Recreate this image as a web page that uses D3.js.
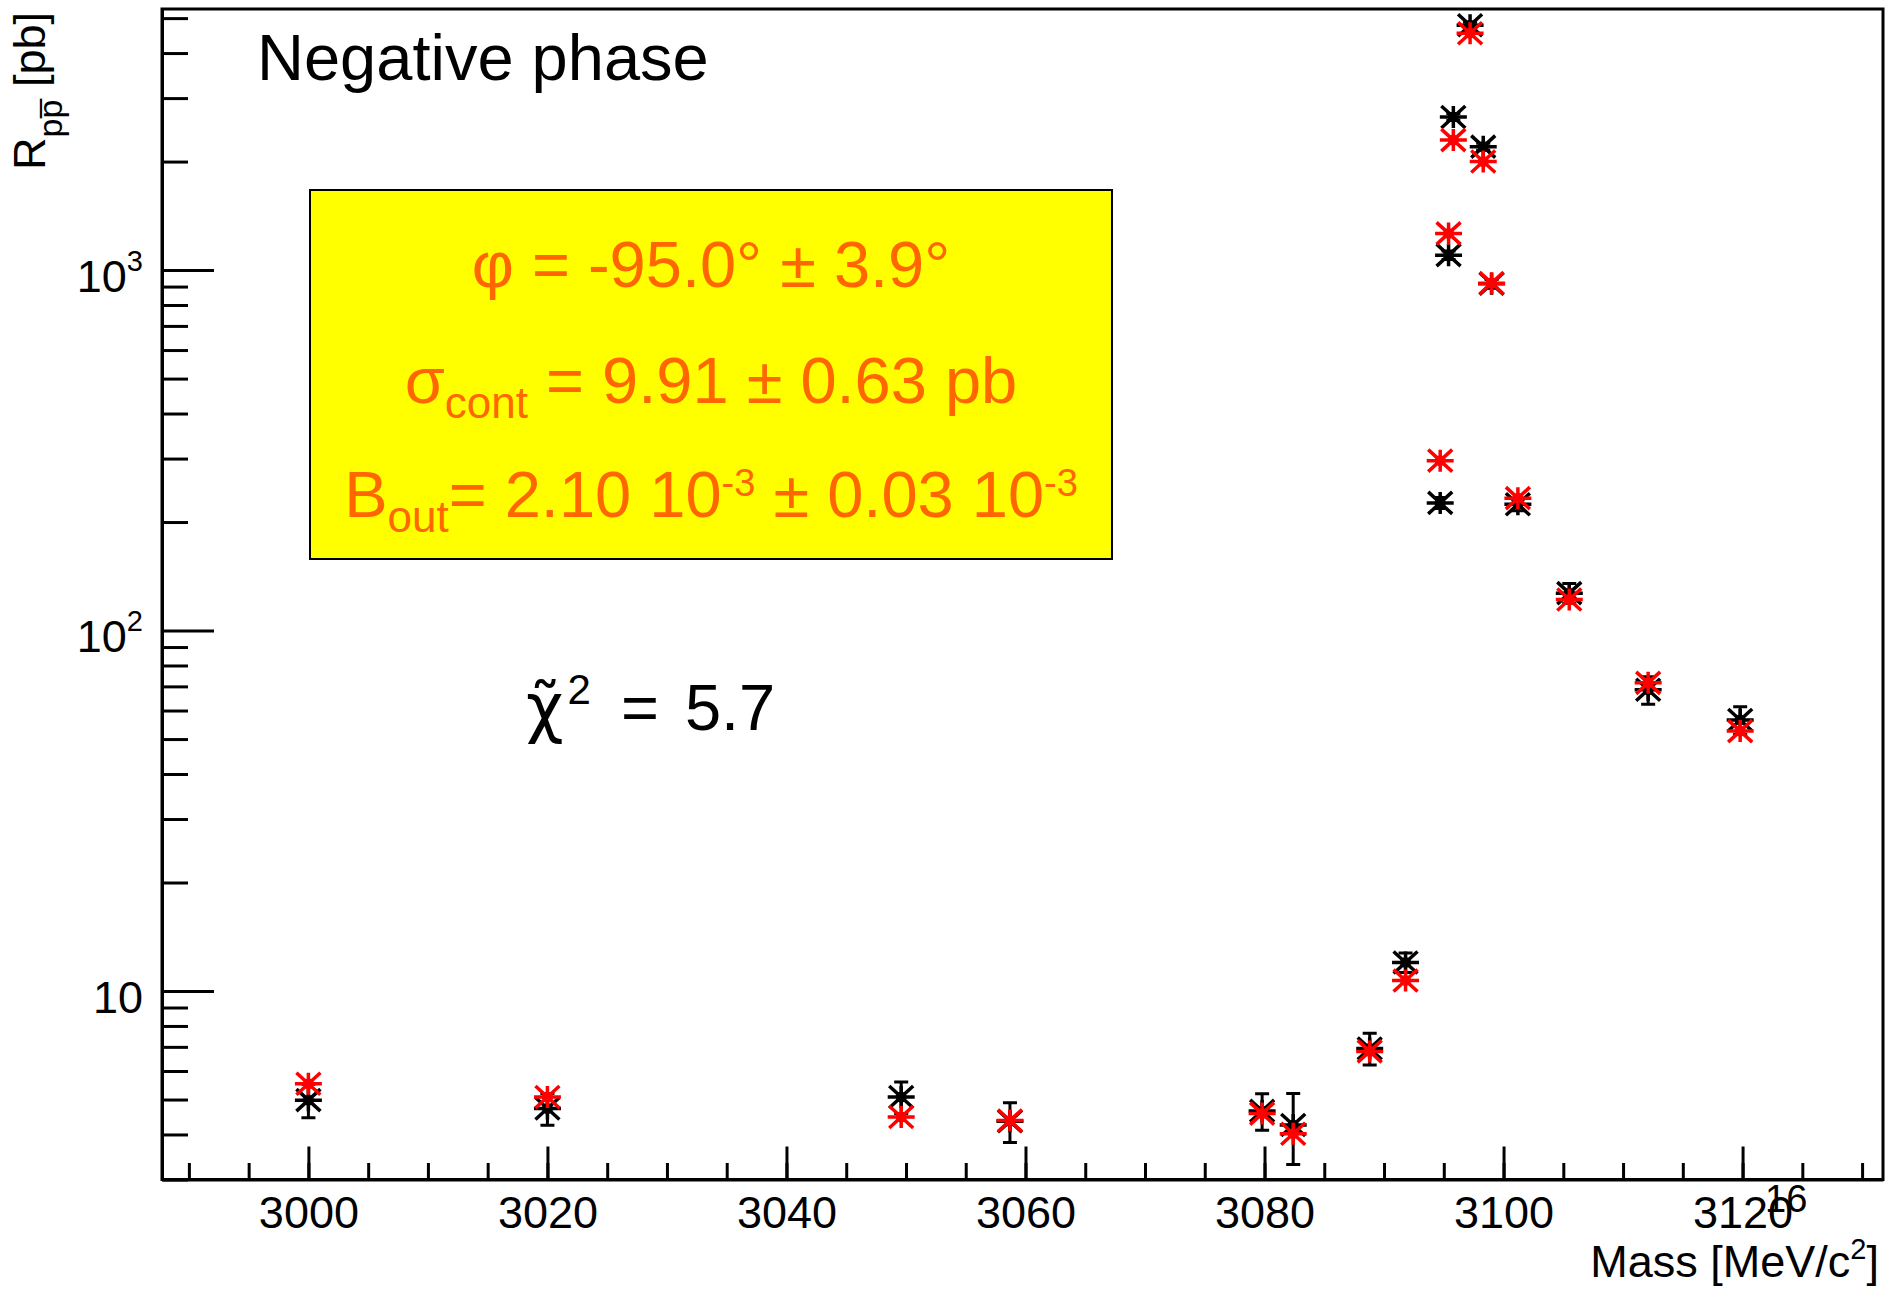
<!DOCTYPE html>
<html>
<head>
<meta charset="utf-8">
<script src="https://cdn.jsdelivr.net/npm/d3@7"></script>
<style>
  body { margin: 0; background: #fff; }
  svg { display: block; font-family: "Liberation Sans", Arial, sans-serif; }
</style>
</head>
<body>
<div id="chart"></div>
<script>
// scan points: mass [MeV/c^2], measured R (black, with errors) and fit (red)
const mass = [3000, 3020, 3049.6, 3058.7, 3079.8, 3082.4, 3088.8, 3091.8, 3094.7, 3095.4,
  3095.8, 3097.2, 3098.3, 3099.0, 3101.2, 3105.5, 3112.1, 3119.8]
const measured = [4.98, 4.72, 5.08, 4.35, 4.65, 4.25, 6.93, 12.0, 226, 1100,
  2660, 4780, 2200, 916, 224, 127, 68.5, 56.5]
const measuredErr = [0.53, 0.48, 0.51, 0.55, 0.54, 0.95, 0.7, 0.75, 8, 30,
  60, 90, 50, 25, 9, 8, 6, 5]
const fitted = [5.53, 5.08, 4.47, 4.37, 4.57, 4.02, 6.8, 10.7, 296, 1264,
  2294, 4540, 2000, 920, 233, 122, 71.6, 52.6]

const xMajorTicks = [3000, 3020, 3040, 3060, 3080, 3100, 3120]
const xMinorTicks = d3.range(2990, 3131, 5)
const yMajorTicks = [10, 100, 1000]
const yTickExponents = ['', '2', '3']
const yMinorTicks = [3, 4, 5, 6, 7, 8, 9, 20, 30, 40, 50, 60, 70, 80, 90,
  200, 300, 400, 500, 600, 700, 800, 900, 2000, 3000, 4000, 5000]

// fit result box, one line per entry: [text, kind]
const boxLines = [
  [['φ = -95.0° ± 3.9°', 'n']],
  [['σ', 'n'], ['cont', 'sub'], [' = 9.91 ± 0.63 pb', 'n']],
  [['B', 'n'], ['out', 'sub'], ['= 2.10 10', 'n'], ['-3', 'sup'], [' ± 0.03 10', 'n'], ['-3', 'sup']]
]

const width = 1886
const height = 1294
const plot = {left: 162, top: 9, right: 1883, bottom: 1179.5}

const svg = d3.select('#chart').append('svg')
  .attr('width', width)
  .attr('height', height)

const x = d3.scaleLinear().domain([2987.75, 3131.75]).range([plot.left, plot.right])
const y = d3.scaleLog().domain([3, 5300]).range([plot.bottom, plot.top])

// frame
svg.append('rect')
  .attr('x', plot.left)
  .attr('y', plot.top)
  .attr('width', plot.right - plot.left)
  .attr('height', plot.bottom - plot.top)
  .attr('fill', 'none')
  .attr('stroke', '#000')
  .attr('stroke-width', 3)

// x axis
svg.append('g')
  .attr('transform', `translate(0,${plot.bottom})`)
  .call(d3.axisBottom(x).tickValues(xMinorTicks).tickSizeInner(-16.5).tickSizeOuter(0).tickFormat(''))
  .call(g => g.select('.domain').remove())
  .attr('stroke-width', 3)

svg.append('g')
  .attr('transform', `translate(0,${plot.bottom})`)
  .call(d3.axisBottom(x).tickValues(xMajorTicks).tickSizeInner(-33).tickSizeOuter(0)
    .tickPadding(16.5).tickFormat(d3.format('d')))
  .attr('stroke-width', 3)
  .attr('font-size', 45)
  .attr('font-family', null)
  .call(g => g.selectAll('text').attr('stroke', 'none'))

// y axis
svg.append('g')
  .attr('transform', `translate(${plot.left},0)`)
  .call(d3.axisLeft(y).tickValues(yMinorTicks).tickSizeInner(-26).tickSizeOuter(0).tickFormat(''))
  .call(g => g.select('.domain').remove())
  .attr('stroke-width', 3)

svg.append('g')
  .attr('transform', `translate(${plot.left},0)`)
  .call(d3.axisLeft(y).tickValues(yMajorTicks).tickSizeInner(-52).tickSizeOuter(0)
    .tickPadding(19).tickFormat(''))
  .attr('stroke-width', 3)
  .attr('font-size', 45)
  .attr('font-family', null)
  .call(g => g.selectAll('.tick text')
    .attr('dy', '0.47em')
    .each(function(d, i) {
      const t = d3.select(this)
      t.append('tspan').text('10')
      if (yTickExponents[i]) {
        t.append('tspan').attr('font-size', 29).attr('dy', -21).text(yTickExponents[i])
      }
    }))

// axis titles
svg.append('text')
  .attr('x', 1879)
  .attr('y', 1277)
  .attr('text-anchor', 'end')
  .attr('font-size', 45)
  .call(t => {
    t.append('tspan').text('Mass [MeV/c')
    t.append('tspan').attr('font-size', 29).attr('dy', -18).text('2')
    t.append('tspan').attr('dy', 18).text(']')
  })

svg.append('text')
  .attr('transform', 'translate(45,12) rotate(-90)')
  .attr('text-anchor', 'end')
  .attr('font-size', 45)
  .call(t => {
    t.append('tspan').text('R')
    t.append('tspan').attr('font-size', 34).attr('dy', 17).text('pp\u0305')
    t.append('tspan').attr('dy', -17).text(' [pb]')
  })

// markers
function asterisk(cx, cy) {
  const p = d3.path()
  p.moveTo(cx - 13.5, cy); p.lineTo(cx + 13.5, cy)
  p.moveTo(cx, cy - 11); p.lineTo(cx, cy + 11)
  p.moveTo(cx - 12, cy - 11); p.lineTo(cx + 12, cy + 11)
  p.moveTo(cx - 12, cy + 11); p.lineTo(cx + 12, cy - 11)
  return p.toString()
}

const points = mass.map((m, i) => ({m, v: measured[i], e: measuredErr[i], f: fitted[i]}))

svg.append('g')
  .attr('stroke', '#000')
  .attr('stroke-width', 3)
  .attr('fill', 'none')
  .selectAll('path')
  .data(points)
  .join('path')
  .attr('d', d => {
    const cx = x(d.m)
    const y0 = y(d.v - d.e)
    const y1 = y(d.v + d.e)
    const p = d3.path()
    p.moveTo(cx, y0); p.lineTo(cx, y1)
    p.moveTo(cx - 7, y0); p.lineTo(cx + 7, y0)
    p.moveTo(cx - 7, y1); p.lineTo(cx + 7, y1)
    return p.toString()
  })

const series = [
  {key: 'v', color: '#000'},
  {key: 'f', color: '#ff0000'}
]

series.forEach(s => {
  const g = svg.append('g')
  g.selectAll('path')
    .data(points)
    .join('path')
    .attr('d', d => asterisk(x(d.m), y(d[s.key])))
    .attr('stroke', s.color)
    .attr('stroke-width', 3.5)
    .attr('fill', 'none')
  g.selectAll('circle')
    .data(points)
    .join('circle')
    .attr('cx', d => x(d.m))
    .attr('cy', d => y(d[s.key]))
    .attr('r', 5.5)
    .attr('fill', s.color)
})

// annotations
svg.append('text')
  .attr('x', 257)
  .attr('y', 80)
  .attr('font-size', 65)
  .text('Negative phase')

svg.append('rect')
  .attr('x', 310)
  .attr('y', 190)
  .attr('width', 802)
  .attr('height', 369)
  .attr('fill', '#ffff00')
  .attr('stroke', '#000')
  .attr('stroke-width', 2)

const lineBaselines = [287, 403, 517]
boxLines.forEach((parts, i) => {
  const t = svg.append('text')
    .attr('x', 711)
    .attr('y', lineBaselines[i])
    .attr('text-anchor', 'middle')
    .attr('font-size', 65)
    .attr('fill', '#ff6600')
  let shift = 0
  parts.forEach(([txt, kind]) => {
    const target = kind === 'sub' ? 15 : kind === 'sup' ? -21 : 0
    t.append('tspan')
      .attr('font-size', kind === 'n' ? 65 : kind === 'sub' ? 44 : 38)
      .attr('dy', target - shift)
      .text(txt)
    shift = target
  })
})

svg.append('text')
  .attr('x', 526)
  .attr('y', 730)
  .attr('font-size', 65)
  .call(t => {
    t.append('tspan').attr('font-family', '"DejaVu Sans"').text('\u03C7\u0303')
    t.append('tspan').attr('font-size', 42).attr('dx', 4).attr('dy', -26).text('2')
    t.append('tspan').attr('dx', 30).attr('dy', 26).text('=')
    t.append('tspan').attr('dx', 26).text('5.7')
  })

// page number
svg.append('text')
  .attr('x', 1765)
  .attr('y', 1212)
  .attr('font-size', 38)
  .text('16')
</script>
</body>
</html>
